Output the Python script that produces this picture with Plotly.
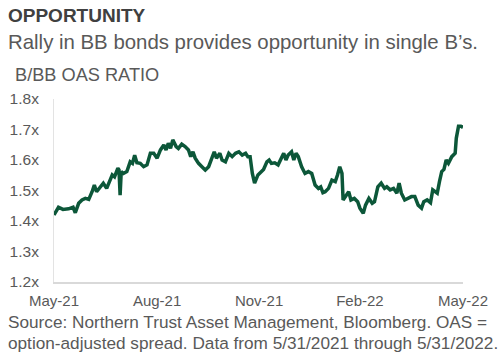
import plotly.graph_objects as go

dates = [
    "2021-05-31", "2021-06-04", "2021-06-08", "2021-06-13", "2021-06-17", "2021-06-19",
    "2021-06-22", "2021-06-25", "2021-06-28", "2021-07-01", "2021-07-04", "2021-07-06",
    "2021-07-08", "2021-07-11", "2021-07-14", "2021-07-17", "2021-07-20", "2021-07-22",
    "2021-07-24", "2021-07-27", "2021-07-28", "2021-07-29", "2021-07-30", "2021-08-01",
    "2021-08-04", "2021-08-07", "2021-08-09", "2021-08-11", "2021-08-13", "2021-08-16",
    "2021-08-19", "2021-08-22", "2021-08-25", "2021-08-28", "2021-08-31", "2021-09-03",
    "2021-09-06", "2021-09-08", "2021-09-10", "2021-09-12", "2021-09-14", "2021-09-17",
    "2021-09-19", "2021-09-22", "2021-09-25", "2021-09-28", "2021-09-30", "2021-10-02",
    "2021-10-04", "2021-10-07", "2021-10-10", "2021-10-13", "2021-10-16", "2021-10-19",
    "2021-10-21", "2021-10-23", "2021-10-26", "2021-10-28", "2021-10-31", "2021-11-03",
    "2021-11-06", "2021-11-09", "2021-11-12", "2021-11-15", "2021-11-18", "2021-11-20",
    "2021-11-22", "2021-11-24", "2021-11-26", "2021-11-29", "2021-12-02", "2021-12-04",
    "2021-12-07", "2021-12-09", "2021-12-11", "2021-12-14", "2021-12-17", "2021-12-20",
    "2021-12-22", "2021-12-24", "2021-12-26", "2021-12-29", "2021-12-31", "2022-01-02",
    "2022-01-04", "2022-01-07", "2022-01-10", "2022-01-13", "2022-01-16", "2022-01-19",
    "2022-01-22", "2022-01-24", "2022-01-26", "2022-01-28", "2022-01-31", "2022-02-03",
    "2022-02-06", "2022-02-08", "2022-02-10", "2022-02-12", "2022-02-13", "2022-02-16",
    "2022-02-18", "2022-02-20", "2022-02-23", "2022-02-26", "2022-02-28", "2022-03-03",
    "2022-03-05", "2022-03-08", "2022-03-11", "2022-03-13", "2022-03-16", "2022-03-19",
    "2022-03-22", "2022-03-24", "2022-03-27", "2022-03-30", "2022-04-02", "2022-04-04",
    "2022-04-06", "2022-04-09", "2022-04-12", "2022-04-15", "2022-04-18", "2022-04-21",
    "2022-04-24", "2022-04-26", "2022-04-29", "2022-05-02", "2022-05-04", "2022-05-08",
    "2022-05-10", "2022-05-12", "2022-05-14", "2022-05-16", "2022-05-18", "2022-05-21",
    "2022-05-24", "2022-05-25", "2022-05-27", "2022-05-29", "2022-05-31",
]

ratio = [
    1.420, 1.445, 1.438, 1.440, 1.445, 1.427,
    1.458, 1.469, 1.474, 1.471, 1.496, 1.518,
    1.496, 1.512, 1.524, 1.507, 1.537, 1.551,
    1.545, 1.573, 1.568, 1.485, 1.562, 1.556,
    1.562, 1.594, 1.589, 1.616, 1.591, 1.589,
    1.578, 1.584, 1.622, 1.622, 1.606, 1.633,
    1.649, 1.633, 1.655, 1.638, 1.666, 1.644,
    1.638, 1.652, 1.644, 1.633, 1.611, 1.627,
    1.606, 1.589, 1.578, 1.567, 1.578, 1.606,
    1.627, 1.606, 1.622, 1.600, 1.594, 1.622,
    1.611, 1.622, 1.627, 1.616, 1.622, 1.611,
    1.611, 1.556, 1.524, 1.551, 1.562, 1.569,
    1.594, 1.600, 1.589, 1.591, 1.584, 1.611,
    1.622, 1.600, 1.616, 1.627, 1.600, 1.622,
    1.611, 1.578, 1.556, 1.562, 1.556, 1.518,
    1.507, 1.512, 1.493, 1.496, 1.507, 1.534,
    1.529, 1.551, 1.578, 1.556, 1.469, 1.485,
    1.496, 1.469, 1.474, 1.463, 1.442, 1.425,
    1.452, 1.474, 1.458, 1.463, 1.512, 1.524,
    1.507, 1.512, 1.502, 1.507, 1.491, 1.524,
    1.491, 1.469, 1.474, 1.480, 1.480, 1.452,
    1.442, 1.463, 1.469, 1.460, 1.502, 1.491,
    1.529, 1.562, 1.569, 1.600, 1.589, 1.611,
    1.622, 1.671, 1.711, 1.711, 1.707,
]

x_tick_dates = ["2021-05-31", "2021-08-31", "2021-11-30", "2022-02-28", "2022-05-31"]
x_tick_labels = ["May-21", "Aug-21", "Nov-21", "Feb-22", "May-22"]
y_tick_vals = [1.2, 1.3, 1.4, 1.5, 1.6, 1.7, 1.8]
y_tick_labels = ["1.2x", "1.3x", "1.4x", "1.5x", "1.6x", "1.7x", "1.8x"]

W, H = 500, 364
L, R, T, B = 54, 37, 99, 82
PW, PH = W - L - R, H - T - B


def px(x):
    return (x - L) / PW


def py(y):
    return (H - B - y) / PH


FONT = "Liberation Sans, Arial, sans-serif"
GRAY = "#595959"

fig = go.Figure()
fig.add_trace(go.Scatter(
    x=dates, y=ratio, mode="lines",
    line=dict(color="#0c5739", width=3.5),
    showlegend=False, hoverinfo="skip",
))

fig.update_layout(
    width=W, height=H,
    margin=dict(l=L, r=R, t=T, b=B, autoexpand=False),
    paper_bgcolor="white", plot_bgcolor="white",
    font=dict(family=FONT, color=GRAY, size=15),
    xaxis=dict(
        range=["2021-05-31", "2022-05-31"],
        tickvals=x_tick_dates, ticktext=x_tick_labels,
        showgrid=False, zeroline=False, automargin=False,
        showline=True, linecolor="#d9d9d9", linewidth=2,
        ticks="outside", ticklen=4, tickcolor="rgba(0,0,0,0)",
        tickfont=dict(size=15, color=GRAY),
    ),
    yaxis=dict(
        range=[1.2, 1.8],
        tickvals=y_tick_vals, ticktext=y_tick_labels,
        showgrid=False, zeroline=False, automargin=False,
        showline=True, linecolor="#e3e3e3", linewidth=1,
        ticks="outside", ticklen=11, tickcolor="rgba(0,0,0,0)",
        tickfont=dict(size=15.5, color=GRAY),
    ),
)

annos = [
    dict(text="<b>OPPORTUNITY</b>", x=px(6), y=py(16), size=19, color="#404040"),
    dict(text="Rally in BB bonds provides opportunity in single B’s.", x=px(6), y=py(42), size=20.4, color=GRAY),
    dict(text="B/BB OAS RATIO", x=px(13), y=py(75), size=18.2, color=GRAY),
    dict(text="Source: Northern Trust Asset Management, Bloomberg. OAS =", x=px(6), y=py(322), size=17.2, color=GRAY),
    dict(text="option-adjusted spread. Data from 5/31/2021 through 5/31/2022.", x=px(6), y=py(343), size=17.2, color=GRAY),
]
for a in annos:
    fig.add_annotation(
        text=a["text"], x=a["x"], y=a["y"], xref="paper", yref="paper",
        xanchor="left", yanchor="middle", showarrow=False,
        font=dict(family=FONT, size=a["size"], color=a["color"]),
    )

fig.write_html(
    "out.html",
    config={"displayModeBar": False},
    post_script="document.body.style.margin='0';document.body.style.overflow='hidden';",
)
